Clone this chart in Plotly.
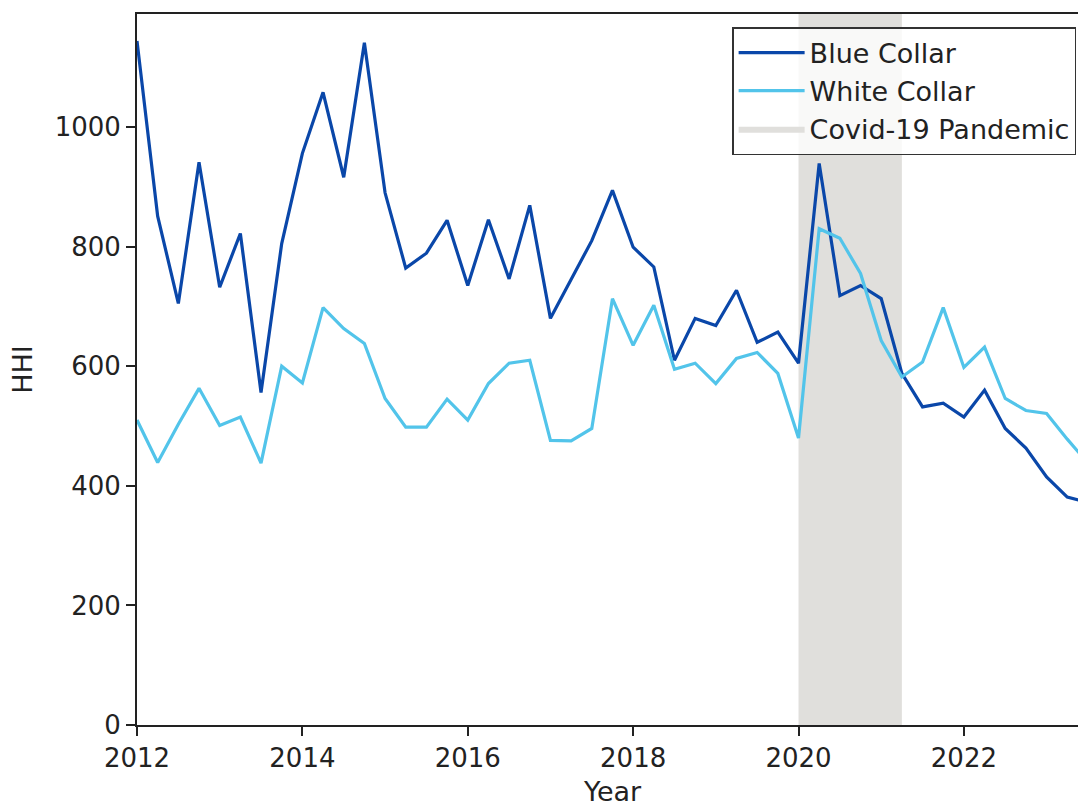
import plotly.graph_objects as go

# ---- data (quarterly) ----
start_year = 2012
blue_collar = [1144, 851, 705, 941, 732, 822, 556, 805, 956, 1058, 916, 1141,
               890, 764, 789, 844, 735, 845, 746, 869, 680, 745, 810, 894,
               799, 766, 610, 680, 668, 727, 640, 657, 605, 939, 718, 735,
               713, 588, 532, 538, 515, 560, 496, 463, 415, 381, 372]
white_collar = [510, 439, 503, 563, 501, 515, 438, 600, 572, 698, 663, 638,
                546, 498, 498, 545, 510, 571, 605, 610, 476, 475, 496, 713,
                635, 702, 595, 605, 571, 613, 623, 588, 480, 830, 814, 755,
                643, 582, 607, 698, 598, 632, 546, 526, 521, 478, 438]
years = [start_year + i / 4 for i in range(len(blue_collar))]
covid_start, covid_end = 2020.0, 2021.25
x_ticks = [2012, 2014, 2016, 2018, 2020, 2022]
y_ticks = [0, 200, 400, 600, 800, 1000]
x_range = [2012, 2023.38]
y_range = [0, 1189]
x_title_center = (years[0] + years[-1]) / 2

BLUE = "#0a47a9"
LIGHT = "#52c4ea"
COVID = "#e0dfdc"
FONT = "DejaVu Sans"
FS = 27
TFS = 26

fig = go.Figure()
fig.add_trace(go.Scatter(
    x=[covid_start, covid_end, covid_end, covid_start, covid_start],
    y=[y_range[0], y_range[0], y_range[1], y_range[1], y_range[0]],
    fill="toself", fillcolor=COVID, mode="lines", line=dict(width=0, color=COVID),
    name="Covid-19 Pandemic", legendrank=3, hoverinfo="skip"))
fig.add_trace(go.Scatter(x=years, y=blue_collar, mode="lines", name="Blue Collar",
                         line=dict(color=BLUE, width=3.2), legendrank=1))
fig.add_trace(go.Scatter(x=years, y=white_collar, mode="lines", name="White Collar",
                         line=dict(color=LIGHT, width=3.2), legendrank=2))

axis_common = dict(showgrid=False, zeroline=False, showline=True, linecolor="#222",
                   linewidth=2, ticks="outside", ticklen=9, tickwidth=2, tickcolor="#222",
                   tickfont=dict(family=FONT, size=TFS, color="#222"))

fig.update_layout(
    width=1078, height=803,
    margin=dict(l=137, r=0, t=14, b=78),
    paper_bgcolor="white", plot_bgcolor="white",
    font=dict(family=FONT, size=FS, color="#222"),
    showlegend=True,
    legend=dict(x=0.998, y=0.9817, xanchor="right", yanchor="top",
                bgcolor="rgba(255,255,255,0.8)", bordercolor="#333", borderwidth=1.5,
                font=dict(family=FONT, size=FS, color="#222"), traceorder="normal",
                itemwidth=66),
    xaxis=dict(range=x_range, tickvals=x_ticks, mirror=True, **axis_common),
    yaxis=dict(range=y_range, tickvals=y_ticks, mirror=False,
               title=dict(text="HHI", font=dict(family=FONT, size=FS), standoff=14),
               **axis_common),
    annotations=[dict(text="Year", xref="x", yref="paper", x=x_title_center, y=-0.093,
                      xanchor="center", yanchor="middle", showarrow=False,
                      font=dict(family=FONT, size=FS, color="#222"))],
)

fig.write_html("out.html", config={"displayModeBar": False},
               post_script="document.body.style.margin='0';")
